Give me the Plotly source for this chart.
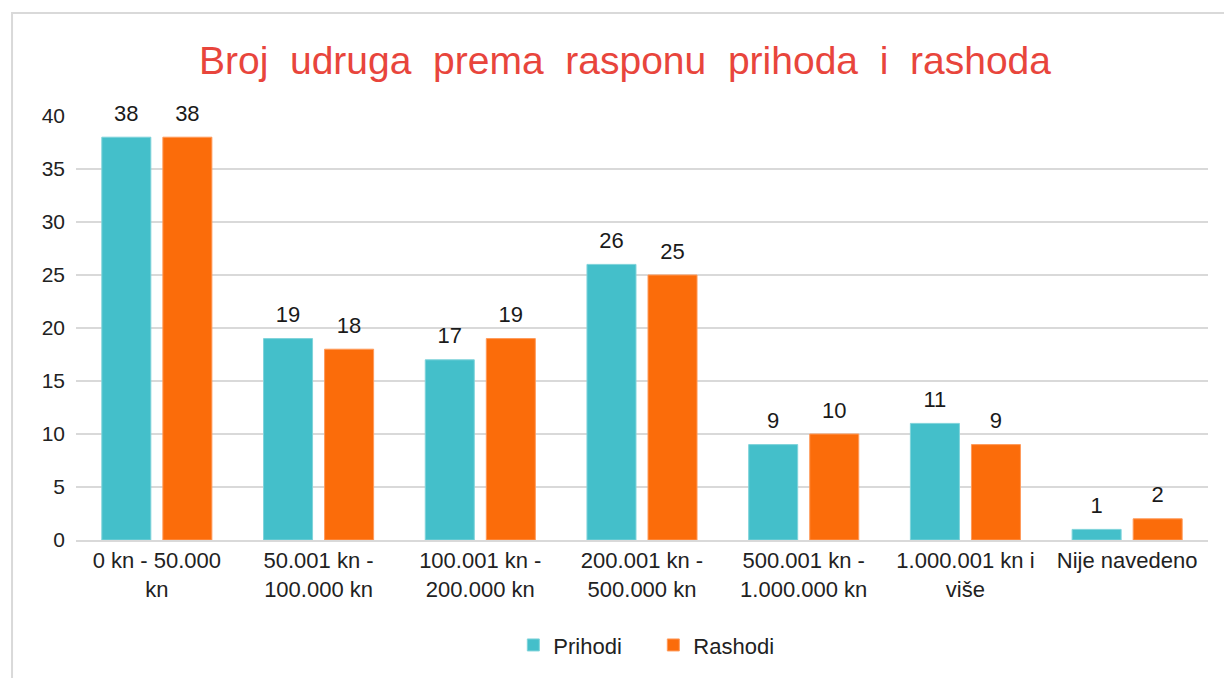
import plotly.graph_objects as go

categories = ["0 kn - 50.000<br>kn", "50.001 kn -<br>100.000 kn", "100.001 kn -<br>200.000 kn",
              "200.001 kn -<br>500.000 kn", "500.001 kn -<br>1.000.000 kn", "1.000.001 kn i<br>više",
              "Nije navedeno"]
prihodi = [38, 19, 17, 26, 9, 11, 1]
rashodi = [38, 18, 19, 25, 10, 9, 2]
tick_vals = [0, 5, 10, 15, 20, 25, 30, 35, 40]
title_words = ["Broj", "udruga", "prema", "rasponu", "prihoda", "i", "rashoda"]

font_family = "Liberation Sans, Arial, sans-serif"

series = [
    ("Prihodi", prihodi, "#44BFCA", "#7FD3DA", "a"),
    ("Rashodi", rashodi, "#FB6C0A", "#FF9A5A", "b"),
]

fig = go.Figure()
for name, vals, color, edge, grp in series:
    fig.add_trace(go.Bar(name=name, x=categories, y=vals, offsetgroup=grp,
                         marker=dict(color=color, line=dict(color=edge, width=1)),
                         hoverinfo="x+y"))
for name, vals, color, edge, grp in series:
    fig.add_trace(go.Scatter(x=categories, y=vals, text=[str(v) for v in vals], offsetgroup=grp,
                             mode="markers+text", textposition="top center",
                             marker=dict(size=16, opacity=0, color=color),
                             textfont=dict(size=22, color="#1a1a1a", family=font_family),
                             showlegend=False, hoverinfo="skip", cliponaxis=False))

fig.update_layout(
    width=1224, height=678,
    margin=dict(l=76, r=16, t=116, b=138),
    paper_bgcolor="white", plot_bgcolor="white",
    font=dict(family=font_family, size=22, color="#222222"),
    title=dict(text=" &nbsp;".join(title_words), x=0.5106, xanchor="center",
               y=0.9115, yanchor="middle", font=dict(size=39, color="#E8453C", family=font_family)),
    barmode="group", bargap=0.245, bargroupgap=0.197,
    scattermode="group", scattergap=0.245,
    showlegend=True,
    legend=dict(orientation="h", x=0.51, xanchor="center", y=-0.248, yanchor="middle",
                font=dict(size=22, color="#222222"), itemwidth=30, entrywidth=95,
                traceorder="normal"),
    xaxis=dict(showgrid=False, showline=True, linecolor="#d9d9d9", linewidth=2, ticks="",
               tickfont=dict(size=22, color="#222222")),
    yaxis=dict(range=[0, 40], tickvals=tick_vals, showgrid=True, gridcolor="#d9d9d9", gridwidth=2,
               zeroline=False, showline=False, ticks="", ticklabelstandoff=10,
               tickfont=dict(size=21, color="#222222")),
    shapes=[dict(type="rect", xref="paper", yref="paper", x0=-0.0565, x1=1.05, y0=-0.40, y1=1.243,
                 line=dict(color="#d9d9d9", width=2), fillcolor="rgba(0,0,0,0)", layer="below")],
)

fig.write_html("out.html", config={"displayModeBar": False},
               post_script="document.body.style.margin='0';document.body.style.padding='0';")
